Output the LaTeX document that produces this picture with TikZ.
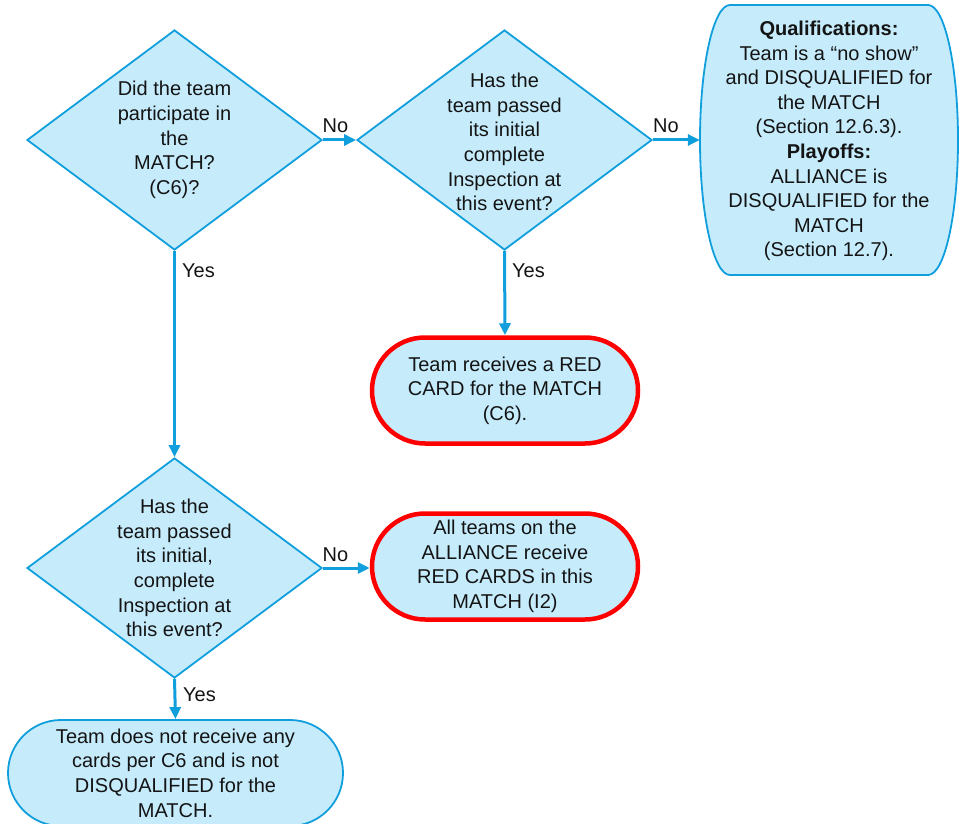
\documentclass[tikz,border=0pt]{standalone}
\usepackage{fontspec}
\setmainfont{Liberation Sans}
\usetikzlibrary{arrows.meta,shapes.geometric}
\definecolor{boxfill}{RGB}{198,236,252}
\definecolor{boxline}{RGB}{16,158,220}
\definecolor{txtc}{RGB}{20,20,20}
\begin{document}
\begin{tikzpicture}[x=1pt,y=-1pt,
  font=\fontsize{20}{24.6}\selectfont,
  dia/.style={diamond, draw=boxline, fill=boxfill, line width=1.8pt, minimum width=295pt, minimum height=220pt, inner sep=0pt},
  tx/.style={align=center, text=txtc, inner sep=0pt},
  rbox/.style={rectangle, rounded corners=53pt, draw=boxline, fill=boxfill, line width=1.8pt, minimum width=266pt, minimum height=106pt, align=center, text=txtc, inner sep=0pt},
  redbox/.style={rbox, draw=red, line width=4.5pt},
  arr/.style={draw=boxline, line width=3pt, -{Triangle[length=12pt,width=11pt]}},
  lbl/.style={inner sep=0pt, text=txtc}]
\useasboundingbox (0,0) rectangle (959,824);

% diamonds
\node[dia] (d1) at (174.5,140) {};
\node[tx] (d1t) at (d1.center) {Did the team\\participate in\\the\\MATCH?\\(C6)?};
\node[dia] (d2) at (504.5,140) {};
\node[tx] (d2t) at (504.5,142) {Has the\\team passed\\its initial\\complete\\Inspection at\\this event?};
\node[dia] (d3) at (174.5,568) {};
\node[tx] (d3t) at (174.5,568) {Has the\\team passed\\its initial,\\complete\\Inspection at\\this event?};

% qualifications box
\node[minimum width=258pt, minimum height=270pt, inner sep=0pt] (q) at (829,140) {};
\draw[draw=boxline, fill=boxfill, line width=1.8pt]
  (730,5) -- (928,5) arc[start angle=90, end angle=-90, x radius=30pt, y radius=135pt]
  -- (730,275) arc[start angle=270, end angle=90, x radius=30pt, y radius=135pt] -- cycle;
\node[tx] (qt) at (829,141) {\textbf{Qualifications:}\\Team is a “no show”\\and DISQUALIFIED for\\the MATCH\\(Section 12.6.3).\\\textbf{Playoffs:}\\ALLIANCE is\\DISQUALIFIED for the\\MATCH\\(Section 12.7).};

% result boxes
\node[redbox] (r1) at (505,390.5) {Team receives a RED\\CARD for the MATCH\\(C6).};
\node[redbox] (r2) at (505,566.5) {All teams on the\\ALLIANCE receive\\RED CARDS in this\\MATCH (I2)};
\node[rbox, minimum width=335pt] (b) at (175.5,773) {Team does not receive any\\cards per C6 and is not\\DISQUALIFIED for the\\MATCH.};

% connectors
\draw[arr] (d1.east) -- (d2.west);
\draw[arr] (d2.east) -- (q.west);
\draw[arr] (d1.south) -- (d3.north);
\draw[arr] (d2.south) -- (r1.north);
\draw[arr] (d3.east) -- (d3.east -| r2.west);
\draw[arr] (d3.south) -- (b.north);

% labels
\node[lbl] (n1) at (335.5,126) {No};
\node[lbl] (n2) at (666,126) {No};
\node[lbl] (n3) at (335.5,554.5) {No};
\node[lbl, anchor=base west] (y1) at (182,277) {Yes};
\node[lbl, anchor=base west] (y2) at (512,277) {Yes};
\node[lbl, anchor=base west] (y3) at (183,701) {Yes};
\end{tikzpicture}
\end{document}
